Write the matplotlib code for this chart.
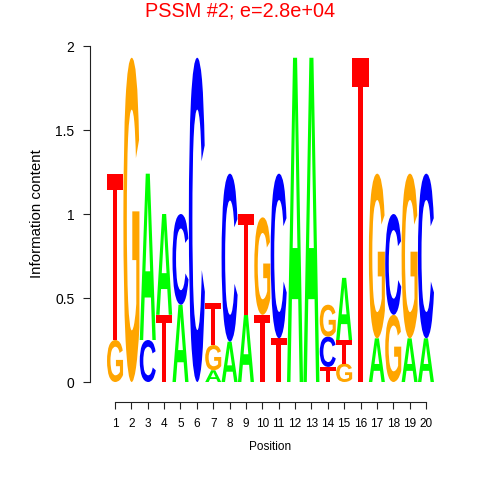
import matplotlib
matplotlib.use('Agg')
import matplotlib.pyplot as plt
from matplotlib.textpath import TextPath
from matplotlib.patches import PathPatch, Polygon
from matplotlib.font_manager import FontProperties
from matplotlib.transforms import Affine2D

positions = list(range(1, 21))
# information content of each base at each position
A = [0, 0, 0.99, 0.60, 0.46, 0, 0.07, 0.24, 0.40, 0, 0, 1.93, 1.93, 0, 0.37, 0, 0.26, 0, 0.26, 0.26]
C = [0, 0, 0.25, 0, 0.54, 1.93, 0, 1.00, 0, 0, 0.98, 0, 0, 0.18, 0, 0, 0, 0.60, 0, 0.98]
G = [0.25, 1.93, 0, 0, 0, 0, 0.15, 0, 0, 0.58, 0, 0, 0, 0.19, 0.11, 0, 0.98, 0.40, 0.98, 0]
T = [0.99, 0, 0, 0.40, 0, 0, 0.25, 0, 0.60, 0.40, 0.26, 0, 0, 0.09, 0.14, 1.93, 0, 0, 0, 0]

title = "PSSM #2; e=2.8e+04"
colors = {'A': '#00ff00', 'C': '#0000ff', 'G': '#ffa500', 'T': '#ff0000'}

fp = FontProperties(family='Liberation Sans', weight='bold')
glyphs = {}
for b in 'ACG':
    p = TextPath((0, 0), b, size=1, prop=fp)
    glyphs[b] = (p, p.get_extents())


def draw_letter(ax, base, x, y0, h, w=0.98):
    if base == 'T':
        # T as a plain polygon: thin bar on top, thick stem
        cb = min(h, 0.08 * h + 0.018)
        sw = 0.27
        xs = [x - w / 2, x + w / 2, x + w / 2, x + sw / 2, x + sw / 2,
              x - sw / 2, x - sw / 2, x - w / 2]
        ys = [y0 + h, y0 + h, y0 + h - cb, y0 + h - cb, y0,
              y0, y0 + h - cb, y0 + h - cb]
        ax.add_patch(Polygon(list(zip(xs, ys)), closed=True,
                             facecolor=colors[base], edgecolor='none'))
        return
    p, ext = glyphs[base]
    tr = (Affine2D()
          .translate(-ext.x0, -ext.y0)
          .scale(w / ext.width, h / ext.height)
          .translate(x - w / 2, y0))
    patch = PathPatch(p, transform=tr + ax.transData, facecolor=colors[base],
                      edgecolor='none', lw=0)
    ax.add_patch(patch)


fig = plt.figure(figsize=(4.8, 4.8), dpi=100)
ax = fig.add_axes([90 / 480, 78 / 480, 361 / 480, 356 / 480])
ax.set_xlim(-0.53, 21.53)
ax.set_ylim(-0.119, 2.0)

for i, pos in enumerate(positions):
    stack = sorted([(A[i], 'A'), (C[i], 'C'), (G[i], 'G'), (T[i], 'T')])
    y = 0.0
    for h, b in stack:
        if h <= 0:
            continue
        draw_letter(ax, b, pos, y, h)
        y += h

for s in ['top', 'right']:
    ax.spines[s].set_visible(False)
ax.spines['left'].set_bounds(0, 2)
ax.spines['bottom'].set_bounds(1, 20)
for s in ['left', 'bottom']:
    ax.spines[s].set_linewidth(0.8)
    ax.spines[s].set_color('#222222')

ax.set_yticks([0, 0.5, 1, 1.5, 2])
ax.set_yticklabels(['0', '0.5', '1', '1.5', '2'], fontsize=10, family='Liberation Sans')
ax.set_xticks(positions)
ax.set_xticklabels([str(p) for p in positions], fontsize=8.5, family='Liberation Sans')
ax.tick_params(axis='both', length=5.2, width=0.8, color='#222222', pad=6)

ax.set_xlabel('Position', fontsize=8.5, family='Liberation Sans', labelpad=8)
ax.set_ylabel('Information content', fontsize=10.8, family='Liberation Sans')
ax.yaxis.set_label_coords(-0.128, 0.528)

fig.text(0.5, 1 - 11 / 480, title, ha='center', va='center', color='#ff0000',
         fontsize=14.3, family='Liberation Sans')

fig.savefig('out.png', dpi=100)
